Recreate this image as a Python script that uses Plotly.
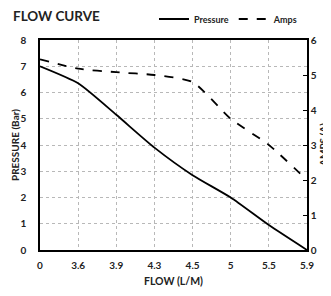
import plotly.graph_objects as go

flow_labels = ["0", "3.6", "3.9", "4.3", "4.5", "5", "5.5", "5.9"]
pressure = [7.0, 6.35, 5.15, 3.9, 2.85, 2.0, 0.95, 0.0]
amps = [5.45, 5.18, 5.08, 5.0, 4.8, 3.75, 3.0, 2.0]

FONT = "Lato"
idx = list(range(len(flow_labels)))

# the page body adds an 8px offset, so the figure is 8px smaller than the window
W, H = 323, 288

fig = go.Figure()
fig.add_trace(go.Scatter(
    x=idx, y=pressure, name="Pressure", mode="lines",
    line=dict(color="black", width=1.8, shape="spline", smoothing=0.6),
))
fig.add_trace(go.Scatter(
    x=idx, y=amps, name="Amps", mode="lines", yaxis="y2",
    line=dict(color="black", width=1.8, dash="dash", shape="spline", smoothing=0.6),
))

tickfont = dict(size=10, family=FONT, weight="bold", color="#222")
titlefont = dict(size=10, family=FONT, weight="bold", color="#222")

fig.update_layout(
    width=W, height=H,
    margin=dict(l=32, r=24, t=32, b=46, autoexpand=False),
    paper_bgcolor="white", plot_bgcolor="white",
    font=dict(family=FONT, color="black", size=11),
    title=dict(text="FLOW CURVE", x=5 / W, xanchor="left", y=1 - 8 / H, yanchor="middle",
               pad=dict(l=0, r=0, t=0, b=0),
               font=dict(size=13.5, family=FONT, weight="bold", color="#222")),
    showlegend=True,
    legend=dict(orientation="h", x=0.985, xanchor="right", y=1.1, yanchor="middle",
                font=dict(size=9, family=FONT, weight="bold", color="#222"), itemwidth=30,
                tracegroupgap=0, bgcolor="rgba(0,0,0,0)"),
    xaxis=dict(
        range=[0, len(flow_labels) - 1], automargin=False,
        tickmode="array", tickvals=idx, ticktext=flow_labels,
        showgrid=True, gridcolor="#b8b8b8", griddash="dot", gridwidth=1,
        showline=True, linecolor="black", linewidth=1.5, mirror=True,
        ticks="", zeroline=False, ticklabelstandoff=5,
        title=dict(text="FLOW (L/M)", standoff=8, font=dict(size=10.5, family=FONT, weight="bold", color="#222")),
        tickfont=tickfont,
    ),
    yaxis=dict(
        range=[0, 8], dtick=1, tick0=0, automargin=False,
        showgrid=True, gridcolor="#b8b8b8", griddash="dot", gridwidth=1,
        showline=True, linecolor="black", linewidth=1.5,
        ticks="", zeroline=False, ticklabelstandoff=10,
        tickfont=tickfont,
    ),
    yaxis2=dict(
        range=[0, 6], dtick=1, tick0=0, overlaying="y", side="right", automargin=False,
        showgrid=False, showline=True, linecolor="black", linewidth=1.5,
        ticks="inside", ticklen=4, tickcolor="black", zeroline=False,
        ticklabelstandoff=0,
        tickfont=tickfont,
    ),
    annotations=[
        dict(text="PRESSURE (Bar)", xref="paper", yref="paper", x=0, y=0.5,
             xshift=-25, textangle=-90, showarrow=False, xanchor="center", yanchor="middle",
             borderpad=0, font=titlefont),
        dict(text="AMPS (A)", xref="paper", yref="paper", x=1, y=0.5,
             xshift=16, textangle=-90, showarrow=False, xanchor="center", yanchor="middle",
             borderpad=0, font=titlefont),
    ],
)

fig.write_html("out.html")
